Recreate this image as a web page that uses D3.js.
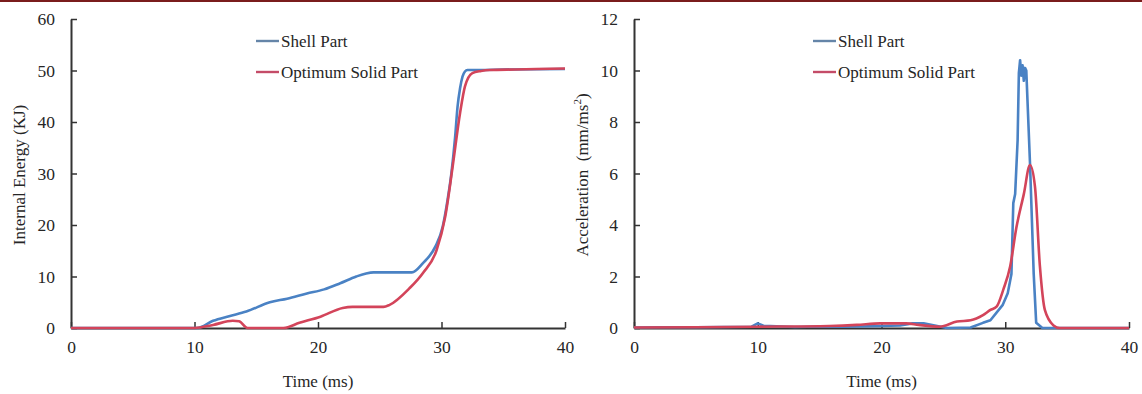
<!DOCTYPE html>
<html><head><meta charset="utf-8">
<script src="https://cdn.jsdelivr.net/npm/d3@7"></script>
<style>
body{margin:0;background:#fff;}
svg{display:block;}
text{font-family:"Liberation Serif","Times New Roman",serif;fill:#262626;}
</style></head>
<body>
<svg id="c" width="1142" height="394"></svg>
<script>
// ---- data ----
const seriesNames = ["Shell Part", "Optimum Solid Part"];
const xTicks = [0, 10, 20, 30, 40];
const energyTicks = [0, 10, 20, 30, 40, 50, 60];
const accelTicks = [0, 2, 4, 6, 8, 10, 12];

const energyShellT = [0,10.2,11.5,12.8,14.2,16.1,17.5,19.1,20.5,21.8,23.1,23.9,24.5,27.6,28.5,29.5,30.1,30.5,30.8,31.1,31.3,31.5,31.7,31.9,32.1,33,35,40];
const energyShellV = [0,0,1.4,2.3,3.2,5.0,5.7,6.7,7.5,8.7,10.0,10.6,10.8,10.8,12.6,15.8,19.7,25,30,37,43,46.5,48.8,49.8,50.1,50.1,50.2,50.3];
const energySolidT = [0,10,11.5,13.1,13.6,14.3,17.2,18.5,20.2,22,22.8,25.3,25.8,27.4,28.5,29.6,30.3,30.9,31.5,31.9,32.5,33.2,33.9,36,40];
const energySolidV = [0,0,0.6,1.4,1.3,0,0,1.0,2.2,3.9,4.1,4.1,4.5,7.7,10.7,15.1,21.6,31.3,41.7,46.9,49.5,49.9,50.1,50.2,50.4];

const accelShellT = [0,2,5,9.5,10,10.5,11,13,15,17,20,21.5,22.5,23.4,24.5,25.3,27.2,28.2,28.8,29.8,30.2,30.5,30.65,30.8,31.0,31.1,31.2,31.3,31.4,31.5,31.6,31.7,31.8,32.0,32.3,32.5,33.0,35,40];
const accelShellV = [0.02,0.03,0.03,0.05,0.18,0.08,0.08,0.04,0.06,0.05,0.08,0.1,0.18,0.18,0.08,0,0.02,0.2,0.3,0.9,1.35,2.1,4.85,5.2,7.3,9.9,10.4,9.8,10.2,9.6,10.1,10.0,8.8,6.4,2.1,0.2,0,0,0];
const accelSolidT = [0,5,10,15.8,18,19.9,22,23,24.7,26.1,27.2,28.2,28.8,29.3,29.85,30.4,30.9,31.5,32.0,32.4,32.8,33.2,33.9,34.4,36,40];
const accelSolidV = [0.02,0.03,0.05,0.08,0.12,0.18,0.18,0.12,0.05,0.25,0.3,0.5,0.7,0.83,1.5,2.4,3.9,5.2,6.33,5.5,2.4,0.7,0.1,0,0,0];

// ---- drawing ----
const svg = d3.select("#c");
const colors = ["#4a82c4", "#d3445a"];
const legendColors = ["#6585a8", "#c44c68"];
svg.append("rect").attr("x",0).attr("y",0).attr("width",1142).attr("height",2).attr("fill","#7a1c1c");

function panel(opts){
  const x = d3.scaleLinear().domain([0,40]).range([opts.x0, opts.x1]);
  const y = d3.scaleLinear().domain([0, opts.ymax]).range([328, 19]);
  const g = svg.append("g");
  const xa = g.append("g").attr("transform","translate(0,328)")
    .call(d3.axisBottom(x).tickValues(xTicks).tickSizeInner(-6).tickSizeOuter(0).tickPadding(13));
  const ya = g.append("g").attr("transform",`translate(${opts.x0},0)`)
    .call(d3.axisLeft(y).tickValues(opts.ticks).tickSizeInner(-6).tickSizeOuter(0).tickPadding(16));
  [xa, ya].forEach(a=>{
    a.selectAll("path").attr("stroke","#333").attr("stroke-width",2);
    a.selectAll("line").attr("stroke","#333").attr("stroke-width",1.5);
    a.selectAll("text").attr("font-size",17.5);
  });
  opts.series.forEach((s,i)=>{
    const pts = s.t.map((t,j)=>[t, s.v[j]]);
    g.append("path").datum(pts)
      .attr("fill","none").attr("stroke",colors[i]).attr("stroke-width",2.6)
      .attr("stroke-linejoin","round")
      .attr("d", d3.line().x(d=>x(d[0])).y(d=>y(d[1])).curve(s.curve));
  });
  // legend
  seriesNames.forEach((n,i)=>{
    const ly = 41 + i*31;
    g.append("line").attr("x1",opts.lx).attr("x2",opts.lx+23).attr("y1",ly).attr("y2",ly)
      .attr("stroke",legendColors[i]).attr("stroke-width",2.4);
    g.append("text").attr("x",opts.lx+25).attr("y",ly+6).attr("font-size",17).text(n);
  });
  g.append("text").attr("x",(opts.x0+opts.x1)/2).attr("y",387).attr("text-anchor","middle")
    .attr("font-size",17).text("Time (ms)");
  const yt = g.append("text").attr("transform",`translate(${opts.tx},175) rotate(-90)`)
    .attr("text-anchor","middle").attr("font-size",17);
  opts.title(yt);
}

panel({x0:71, x1:565, ymax:60, ticks:energyTicks, lx:256, tx:25,
  series:[{t:energyShellT,v:energyShellV,curve:d3.curveMonotoneX},{t:energySolidT,v:energySolidV,curve:d3.curveMonotoneX}],
  title: t=>t.text("Internal Energy (KJ)")});

panel({x0:634, x1:1129, ymax:12, ticks:accelTicks, lx:813, tx:588,
  series:[{t:accelShellT,v:accelShellV,curve:d3.curveLinear},{t:accelSolidT,v:accelSolidV,curve:d3.curveMonotoneX}],
  title: t=>{ t.append("tspan").text("Acceleration\u00A0\u00A0(mm/ms");
              t.append("tspan").attr("dy",-7).attr("font-size",11).text("2");
              t.append("tspan").attr("dy",7).text(")"); }});
</script>
</body></html>
